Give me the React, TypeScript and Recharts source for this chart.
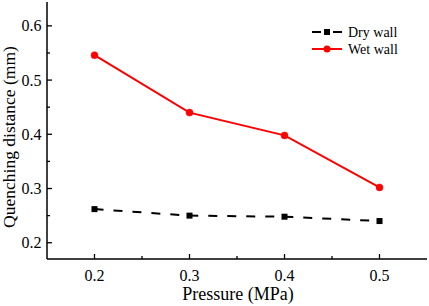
import React from "react";
import { LineChart, Line, XAxis, YAxis, Label } from "recharts";

const pressures = [0.2, 0.3, 0.4, 0.5];
const dryWall = [0.262, 0.25, 0.248, 0.24];
const wetWall = [0.546, 0.44, 0.398, 0.302];

const xTicks = [0.2, 0.25, 0.3, 0.35, 0.4, 0.45, 0.5];
const yTicks = [0.2, 0.25, 0.3, 0.35, 0.4, 0.45, 0.5, 0.55, 0.6];

const data = pressures.map((p, i) => ({
  pressure: p,
  dry: dryWall[i],
  wet: wetWall[i],
}));

const FONT = "Liberation Serif, Times New Roman, serif";

const isMajor = (v: number) => Math.round(v * 100) % 10 === 0;

function XTick({ x, y, payload }: { x: number; y: number; payload: { value: number } }) {
  const major = isMajor(payload.value);
  return (
    <g>
      <line x1={x} x2={x} y1={y} y2={y - (major ? 5 : 3)} stroke="#000" strokeWidth={1.3} />
      {major && (
        <text x={x} y={y + 21.5} textAnchor="middle" style={{ fontFamily: FONT, fontSize: 16 }} fill="#000">
          {payload.value.toFixed(1)}
        </text>
      )}
    </g>
  );
}

function YTick({ x, y, payload }: { x: number; y: number; payload: { value: number } }) {
  const major = isMajor(payload.value);
  return (
    <g>
      <line x1={x} x2={x + (major ? 5 : 3)} y1={y} y2={y} stroke="#000" strokeWidth={1.3} />
      {major && (
        <text x={x - 5.5} y={y + 5.5} textAnchor="end" style={{ fontFamily: FONT, fontSize: 16 }} fill="#000">
          {payload.value.toFixed(1)}
        </text>
      )}
    </g>
  );
}

function SquareDot({ cx, cy }: { cx?: number; cy?: number }) {
  if (cx == null || cy == null) return null;
  return <rect x={cx - 3} y={cy - 3} width={6} height={6} fill="#000" />;
}

function ChartLegend() {
  const row = { display: "flex", alignItems: "center", height: 17 } as const;
  return (
    <div
      style={{
        position: "absolute",
        left: 312,
        top: 23.5,
        fontFamily: FONT,
        fontSize: 14,
        color: "#000",
        lineHeight: "17px",
      }}
    >
      <div style={row}>
        <svg width={36} height={10}>
          <line x1={0} x2={9} y1={5} y2={5} stroke="#000" strokeWidth={2} />
          <rect x={12} y={2} width={6} height={6} fill="#000" />
          <line x1={21} x2={30} y1={5} y2={5} stroke="#000" strokeWidth={2} />
        </svg>
        <span>Dry wall</span>
      </div>
      <div style={row}>
        <svg width={36} height={10}>
          <line x1={0} x2={30} y1={5} y2={5} stroke="#ff0000" strokeWidth={2} />
          <circle cx={15} cy={5} r={3.5} fill="#ff0000" />
        </svg>
        <span>Wet wall</span>
      </div>
    </div>
  );
}

export default function App() {
  return (
    <div style={{ position: "absolute", left: 0, top: 0, width: 429, height: 306, background: "#fff" }}>
      <LineChart
        width={429}
        height={306}
        data={data}
        margin={{ top: 2, right: 2, left: 0, bottom: 0 }}
      >
        <XAxis
          dataKey="pressure"
          type="number"
          domain={[0.15, 0.55]}
          ticks={xTicks}
          interval={0}
          height={47}
          tickSize={0}
          tickMargin={0}
          tickLine={false}
          axisLine={{ stroke: "#000", strokeWidth: 1.5 }}
          tick={XTick as any}
        >
          <Label
            content={() => (
              <text x={238} y={300} textAnchor="middle" style={{ fontFamily: FONT, fontSize: 18 }} fill="#000">
                Pressure (MPa)
              </text>
            )}
          />
        </XAxis>
        <XAxis
          xAxisId="top"
          orientation="top"
          type="number"
          domain={[0.15, 0.55]}
          height={0}
          tick={false}
          tickLine={false}
          axisLine={{ stroke: "#000", strokeWidth: 1.5 }}
        />
        <YAxis
          type="number"
          domain={[0.17, 0.644]}
          ticks={yTicks}
          interval={0}
          width={47}
          tickSize={0}
          tickMargin={0}
          tickLine={false}
          allowDataOverflow
          axisLine={{ stroke: "#000", strokeWidth: 1.5 }}
          tick={YTick as any}
        >
          <Label
            content={() => (
              <text
                x={15}
                y={137}
                transform="rotate(-90 15 137)"
                textAnchor="middle"
                style={{ fontFamily: FONT, fontSize: 17.5 }}
                fill="#000"
              >
                Quenching distance (mm)
              </text>
            )}
          />
        </YAxis>
        <YAxis
          yAxisId="right"
          orientation="right"
          type="number"
          domain={[0.17, 0.644]}
          width={0}
          tick={false}
          tickLine={false}
          axisLine={{ stroke: "#000", strokeWidth: 1.5 }}
        />
        <Line
          dataKey="dry"
          name="Dry wall"
          stroke="#000"
          strokeWidth={2}
          strokeDasharray="9 10"
          dot={SquareDot as any}
          activeDot={false}
          isAnimationActive={false}
        />
        <Line
          dataKey="wet"
          name="Wet wall"
          stroke="#ff0000"
          strokeWidth={2}
          dot={{ r: 3.5, fill: "#ff0000", stroke: "#ff0000", strokeWidth: 0.5 }}
          activeDot={false}
          isAnimationActive={false}
        />
      </LineChart>
      <ChartLegend />
    </div>
  );
}
